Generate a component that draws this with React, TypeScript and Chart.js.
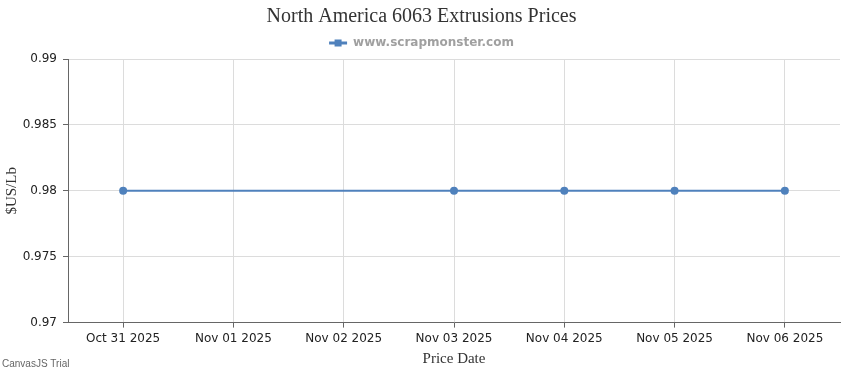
import React, { useEffect, useRef } from "react";
import { Chart, registerables } from "chart.js";

Chart.register(...registerables);

const categories = ["Oct 31 2025", "Nov 01 2025", "Nov 02 2025", "Nov 03 2025", "Nov 04 2025", "Nov 05 2025", "Nov 06 2025"];
const prices: (number | null)[] = [0.98, null, null, 0.98, 0.98, 0.98, 0.98];
const titleText = "North America 6063 Extrusions Prices";
const seriesName = "www.scrapmonster.com";
const yTitle = "$US/Lb";
const xTitle = "Price Date";
const yMin = 0.97;
const yMax = 0.99;
const yStep = 0.005;

const BLUE = "#4f81bc";

export default function App() {
  const ref = useRef<HTMLCanvasElement | null>(null);
  useEffect(() => {
    if (!ref.current) return;
    const extras = {
      id: "extras",
      afterDraw(chart: any) {
        const ctx = chart.ctx;
        ctx.save();
        const legend = chart.legend;
        if (legend && legend.legendHitBoxes && legend.legendHitBoxes.length) {
          const hb = legend.legendHitBoxes[0];
          const cx = hb.left + 9;
          const cy = hb.top + hb.height / 2;
          ctx.fillStyle = BLUE;
          ctx.fillRect(cx - 3.5, cy - 3.5, 7, 7);
        }
        ctx.fillStyle = "#666";
        ctx.font = "10px 'Liberation Sans', Arial, sans-serif";
        ctx.textBaseline = "alphabetic";
        ctx.textAlign = "left";
        ctx.fillText("CanvasJS Trial", 2, 367);
        ctx.restore();
      },
    };
    const chart = new Chart(ref.current, {
      type: "line",
      data: {
        labels: categories,
        datasets: [
          {
            label: seriesName,
            data: prices,
            borderColor: BLUE,
            backgroundColor: BLUE,
            borderWidth: 2,
            pointRadius: 4,
            pointHoverRadius: 4,
            pointBackgroundColor: BLUE,
            pointBorderWidth: 0,
            spanGaps: true,
            tension: 0,
          },
        ],
      },
      options: {
        animation: false,
        responsive: false,
        maintainAspectRatio: false,
        layout: { padding: { left: 3, right: 10, top: 5, bottom: 2 } },
        plugins: {
          title: {
            display: true,
            text: titleText,
            color: "#333",
            font: { family: "'Liberation Serif', 'Times New Roman', serif", size: 20, weight: "normal" },
            padding: { top: 0, bottom: 2 },
          },
          legend: {
            display: true,
            labels: {
              boxWidth: 18,
              boxHeight: 3,
              color: "#a0a0a0",
              font: { family: "'DejaVu Sans', Verdana, sans-serif", size: 12, weight: "bold" },
              padding: 6,
              generateLabels: () => [
                {
                  text: seriesName,
                  fillStyle: BLUE,
                  strokeStyle: BLUE,
                  fontColor: "#a0a0a0",
                  lineWidth: 0,
                  datasetIndex: 0,
                } as any,
              ],
            },
          },
          tooltip: { enabled: false },
        },
        scales: {
          x: {
            offset: true,
            title: {
              display: true,
              text: xTitle,
              color: "#333",
              font: { family: "'Liberation Serif', serif", size: 15 },
              padding: { top: 0, bottom: 0 },
            },
            grid: { color: "#dcdcdc", tickColor: "#666", tickLength: 5, offset: false },
            border: { color: "#666", width: 1 },
            ticks: {
              color: "#222",
              font: { family: "'DejaVu Sans', Tahoma, sans-serif", size: 12 },
              maxRotation: 0,
              autoSkip: false,
              padding: 4,
            },
          },
          y: {
            min: yMin,
            max: yMax,
            title: {
              display: true,
              text: yTitle,
              color: "#333",
              font: { family: "'Liberation Serif', serif", size: 15 },
              padding: { top: 0, bottom: 2 },
            },
            grid: { color: "#dcdcdc", tickColor: "#666", tickLength: 5 },
            border: { color: "#666", width: 1 },
            ticks: {
              stepSize: yStep,
              color: "#222",
              font: { family: "'DejaVu Sans', Tahoma, sans-serif", size: 12 },
              padding: 6,
              callback: (v: any) => String(Number(v).toFixed(3)).replace(/0+$/, "").replace(/\.$/, ""),
            },
            afterFit: (s: any) => {
              s.width = 65;
            },
          },
        },
      },
      plugins: [extras],
    });
    return () => chart.destroy();
  }, []);
  return (
    <div style={{ position: "absolute", left: 0, top: 0, width: 850, height: 370, background: "#fff" }}>
      <canvas ref={ref} width={850} height={370} style={{ width: 850, height: 370 }} />
    </div>
  );
}
